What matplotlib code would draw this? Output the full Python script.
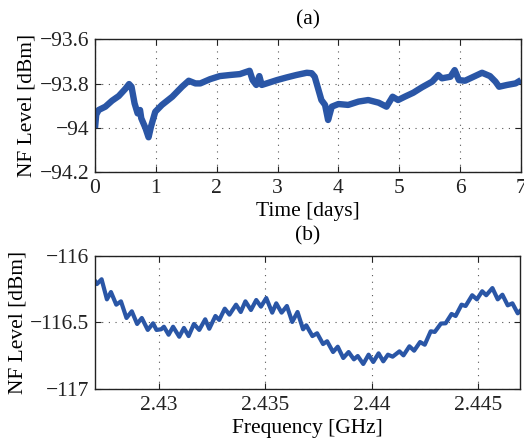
import numpy as np
import matplotlib.pyplot as plt

# (a) noise floor over one week
time_days = [0.0, 0.02, 0.06, 0.17, 0.28, 0.39, 0.50, 0.56, 0.60, 0.65, 0.70,
             0.74, 0.76, 0.83, 0.88, 0.92, 0.99, 1.10, 1.27, 1.43, 1.54, 1.65,
             1.73, 1.89, 2.05, 2.22, 2.38, 2.54, 2.59, 2.65, 2.70, 2.74, 2.82,
             2.99, 3.15, 3.31, 3.48, 3.56, 3.61, 3.67, 3.72, 3.78, 3.83, 3.89,
             4.00, 4.16, 4.33, 4.49, 4.66, 4.79, 4.89, 4.98, 5.09, 5.23, 5.37,
             5.54, 5.64, 5.70, 5.84, 5.91, 5.98, 6.08, 6.22, 6.36, 6.49, 6.58,
             6.64, 6.77, 6.91, 7.0]
nf_time = [-94.00, -93.94, -93.919, -93.904, -93.877, -93.856, -93.823, -93.802,
           -93.814, -93.889, -93.934, -93.919, -93.956, -94.001, -94.042, -93.994,
           -93.927, -93.896, -93.859, -93.814, -93.787, -93.799, -93.799, -93.780,
           -93.766, -93.761, -93.757, -93.742, -93.784, -93.806, -93.766, -93.806,
           -93.799, -93.784, -93.772, -93.761, -93.751, -93.753, -93.769, -93.826,
           -93.874, -93.896, -93.964, -93.904, -93.892, -93.896, -93.881, -93.874,
           -93.886, -93.904, -93.859, -93.874, -93.859, -93.841, -93.817, -93.791,
           -93.761, -93.776, -93.769, -93.739, -93.784, -93.787, -93.769, -93.751,
           -93.766, -93.791, -93.814, -93.806, -93.799, -93.784]

# (b) noise floor across frequency
freq_ghz = [2.42697, 2.42709, 2.42731, 2.42756, 2.42775, 2.42800, 2.42822, 2.42848,
            2.42873, 2.42898, 2.42920, 2.42948, 2.42973, 2.42989, 2.43011, 2.43024,
            2.43046, 2.43067, 2.43096, 2.43118, 2.43140, 2.43165, 2.43190, 2.43218,
            2.43237, 2.43266, 2.43284, 2.43310, 2.43332, 2.43363, 2.43385, 2.43407,
            2.43433, 2.43458, 2.43480, 2.43505, 2.43533, 2.43552, 2.43577, 2.43602,
            2.43627, 2.43652, 2.43678, 2.43693, 2.43722, 2.43744, 2.43772, 2.43791,
            2.43819, 2.43841, 2.43867, 2.43892, 2.43917, 2.43935, 2.43961, 2.43986,
            2.44008, 2.44033, 2.44055, 2.44077, 2.44099, 2.44131, 2.44150, 2.44178,
            2.44200, 2.44228, 2.44250, 2.44278, 2.44297, 2.44326, 2.44348, 2.44376,
            2.44395, 2.44423, 2.44442, 2.44473, 2.44495, 2.44520, 2.44539, 2.44568,
            2.44593, 2.44615, 2.44640, 2.44662, 2.44687, 2.44706]
nf_freq = [-116.180, -116.211, -116.175, -116.326, -116.271, -116.366, -116.341,
           -116.466, -116.416, -116.511, -116.466, -116.556, -116.506, -116.556,
           -116.551, -116.532, -116.592, -116.532, -116.607, -116.541, -116.602,
           -116.511, -116.556, -116.476, -116.547, -116.451, -116.481, -116.396,
           -116.441, -116.366, -116.421, -116.341, -116.406, -116.331, -116.381,
           -116.316, -116.426, -116.356, -116.426, -116.376, -116.496, -116.421,
           -116.551, -116.521, -116.602, -116.581, -116.662, -116.641, -116.722,
           -116.682, -116.767, -116.722, -116.777, -116.752, -116.812, -116.742,
           -116.797, -116.732, -116.792, -116.742, -116.757, -116.717, -116.747,
           -116.679, -116.712, -116.647, -116.667, -116.566, -116.571, -116.508,
           -116.506, -116.436, -116.451, -116.366, -116.376, -116.295, -116.326,
           -116.265, -116.295, -116.241, -116.326, -116.291, -116.371, -116.356,
           -116.431, -116.401]

plt.rcParams['font.family'] = ['Liberation Serif', 'DejaVu Serif']
plt.rcParams['font.size'] = 15.5
plt.rcParams['axes.unicode_minus'] = True

line_color = "#2a56a6"

fig = plt.figure(figsize=(5.24, 4.4), dpi=100)
ax1 = fig.add_axes([0.1813, 0.6084, 0.813, 0.3023])
ax2 = fig.add_axes([0.1813, 0.1159, 0.812, 0.3023])

ax1.plot(time_days, nf_time, color=line_color, lw=4.6,
         solid_joinstyle="round", solid_capstyle="butt")
ax1.set(xlim=(0, 7), ylim=(-94.2, -93.6))
ax1.set_xticks(range(8))
ax1.set_yticks([-94.2, -94, -93.8, -93.6])
ax1.set_yticklabels(["\u221294.2", "\u221294", "\u221293.8", "\u221293.6"])
ax1.set_xlabel("Time [days]", labelpad=3)
ax1.set_ylabel("NF Level [dBm]", labelpad=2)
ax1.set_title("(a)", pad=11, fontsize=15.5)

ax2.plot(freq_ghz, nf_freq, color=line_color, lw=3.0,
         solid_joinstyle="round", solid_capstyle="butt")
ax2.set(xlim=(2.427, 2.447), ylim=(-117, -116))
ax2.set_xticks([2.43, 2.435, 2.44, 2.445])
ax2.set_xticklabels(["2.43", "2.435", "2.44", "2.445"])
ax2.set_yticks([-117, -116.5, -116])
ax2.set_yticklabels(["\u2212117", "\u2212116.5", "\u2212116"])
ax2.set_xlabel("Frequency [GHz]", labelpad=3)
ax2.set_ylabel("NF Level [dBm]", labelpad=2)
ax2.set_title("(b)", pad=11, fontsize=15.5)

for ax in (ax1, ax2):
    ax.grid(True, linestyle=(0, (1, 5)), color="#555555", lw=0.8)
    ax.tick_params(direction="in", top=True, right=True, length=4, width=0.8,
                   colors="#222222")
    ax.tick_params(axis="x", pad=5)
    ax.tick_params(axis="y", pad=4)
    for s in ax.spines.values():
        s.set_linewidth(1.0)
        s.set_color("#222222")

fig.savefig("out.png", dpi=100)
